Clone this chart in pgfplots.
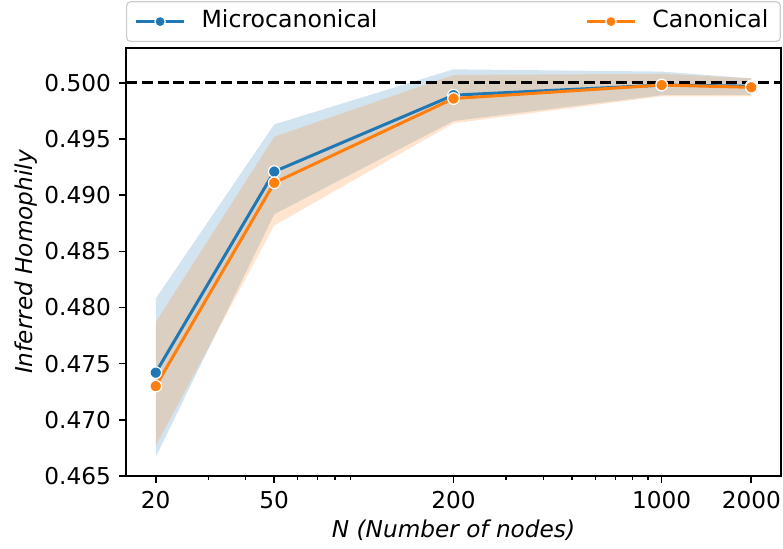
\documentclass[border=0pt]{standalone}
\usepackage{fontspec}
\setmainfont{DejaVu Sans}
\usepackage{pgfplots}
\pgfplotsset{compat=1.18}
\usetikzlibrary{calc}

\definecolor{tabblue}{HTML}{1F77B4}
\definecolor{taborange}{HTML}{FF7F0E}
\definecolor{legframe}{HTML}{CCCCCC}

\begin{document}
\fontsize{11.6}{14}\selectfont
\begin{tikzpicture}
\begin{axis}[
  scale only axis,
  width=327.5pt, height=214pt,
  xmode=log,
  xmin=15.89, xmax=2517,
  ymin=0.465, ymax=0.5031,
  xtick={20,50,200,1000,2000},
  xticklabels={20,50,200,1000,2000},
  minor xtick={30,40,60,70,80,90,300,400,500,600,700,800,900},
  ytick={0.465,0.470,0.475,0.480,0.485,0.490,0.495,0.500},
  yticklabel style={/pgf/number format/.cd, fixed, fixed zerofill, precision=3, assume math mode=true},
  tick pos=left,
  tick align=outside,
  major tick length=3.5pt,
  minor tick length=2pt,
  every tick/.style={black, line width=0.8pt},
  minor tick style={line width=0.6pt},
  axis line style={line width=0.8pt},
  tick label style={font=\fontsize{11.6}{14}\selectfont},
  xlabel={\itshape N (Number of nodes)},
  ylabel={\itshape Inferred Homophily},
  xlabel style={at={(axis description cs:0.5,0)}, anchor=base, yshift=-30.5pt},
  ylabel style={at={(axis description cs:-0.142,0.5)}, anchor=base, rotate=0},
  legend columns=2,
  legend style={
    at={(0,1)}, anchor=south west, yshift=3pt,
    draw=legframe, line width=0.6pt, rounded corners=2pt,
    inner xsep=4pt, inner ysep=4.3pt,
    nodes={inner ysep=0pt, text height=8.8pt, text depth=2.4pt},
    font=\fontsize{11.8}{14}\selectfont,
    /tikz/every odd column/.append style={column sep=6pt},
    /tikz/every even column/.append style={column sep=102pt},
  },
  legend cell align=left,
  legend image code/.code={%
    \draw[line width=1.5pt] (0pt,0pt) -- (24pt,0pt);
    \draw[#1, mark size=2.6pt, line width=0.5pt] plot coordinates {(12pt,0pt)};
  },
]
\coordinate (sw) at (rel axis cs:0,0);
\coordinate (ne) at (rel axis cs:1,1);

% confidence bands
\addplot[fill=tabblue, fill opacity=0.2, draw=none, forget plot] coordinates {
  (20,0.4808) (50,0.4963) (200,0.5012) (1000,0.5010) (2000,0.5004)
  (2000,0.4989) (1000,0.4989) (200,0.4966) (50,0.4883) (20,0.4667)
} -- cycle;
\addplot[fill=taborange, fill opacity=0.2, draw=none, forget plot] coordinates {
  (20,0.4787) (50,0.4952) (200,0.5007) (1000,0.5008) (2000,0.5004)
  (2000,0.4988) (1000,0.4988) (200,0.4964) (50,0.4873) (20,0.4677)
} -- cycle;

% mean estimates
\addplot[tabblue, line width=1.5pt, mark=*, mark size=2.9pt,
  mark options={fill=tabblue, draw=white, line width=0.6pt}] coordinates {
  (20,0.4742) (50,0.4921) (200,0.4989) (1000,0.4998) (2000,0.4997)
};
\addlegendentry{Microcanonical}
\addplot[taborange, line width=1.5pt, mark=*, mark size=2.9pt,
  mark options={fill=taborange, draw=white, line width=0.6pt}] coordinates {
  (20,0.4730) (50,0.4911) (200,0.4986) (1000,0.4998) (2000,0.4996)
};
\addlegendentry{Canonical}

% reference level
\addplot[black, line width=1.5pt, dash pattern=on 5.5pt off 2.4pt, forget plot] coordinates {(15.89,0.5) (2517,0.5)};
\end{axis}
\pgfresetboundingbox
\path[use as bounding box] ($(sw)+(-63pt,-36pt)$) rectangle ($(ne)+(1pt,24pt)$);
\end{tikzpicture}
\end{document}
